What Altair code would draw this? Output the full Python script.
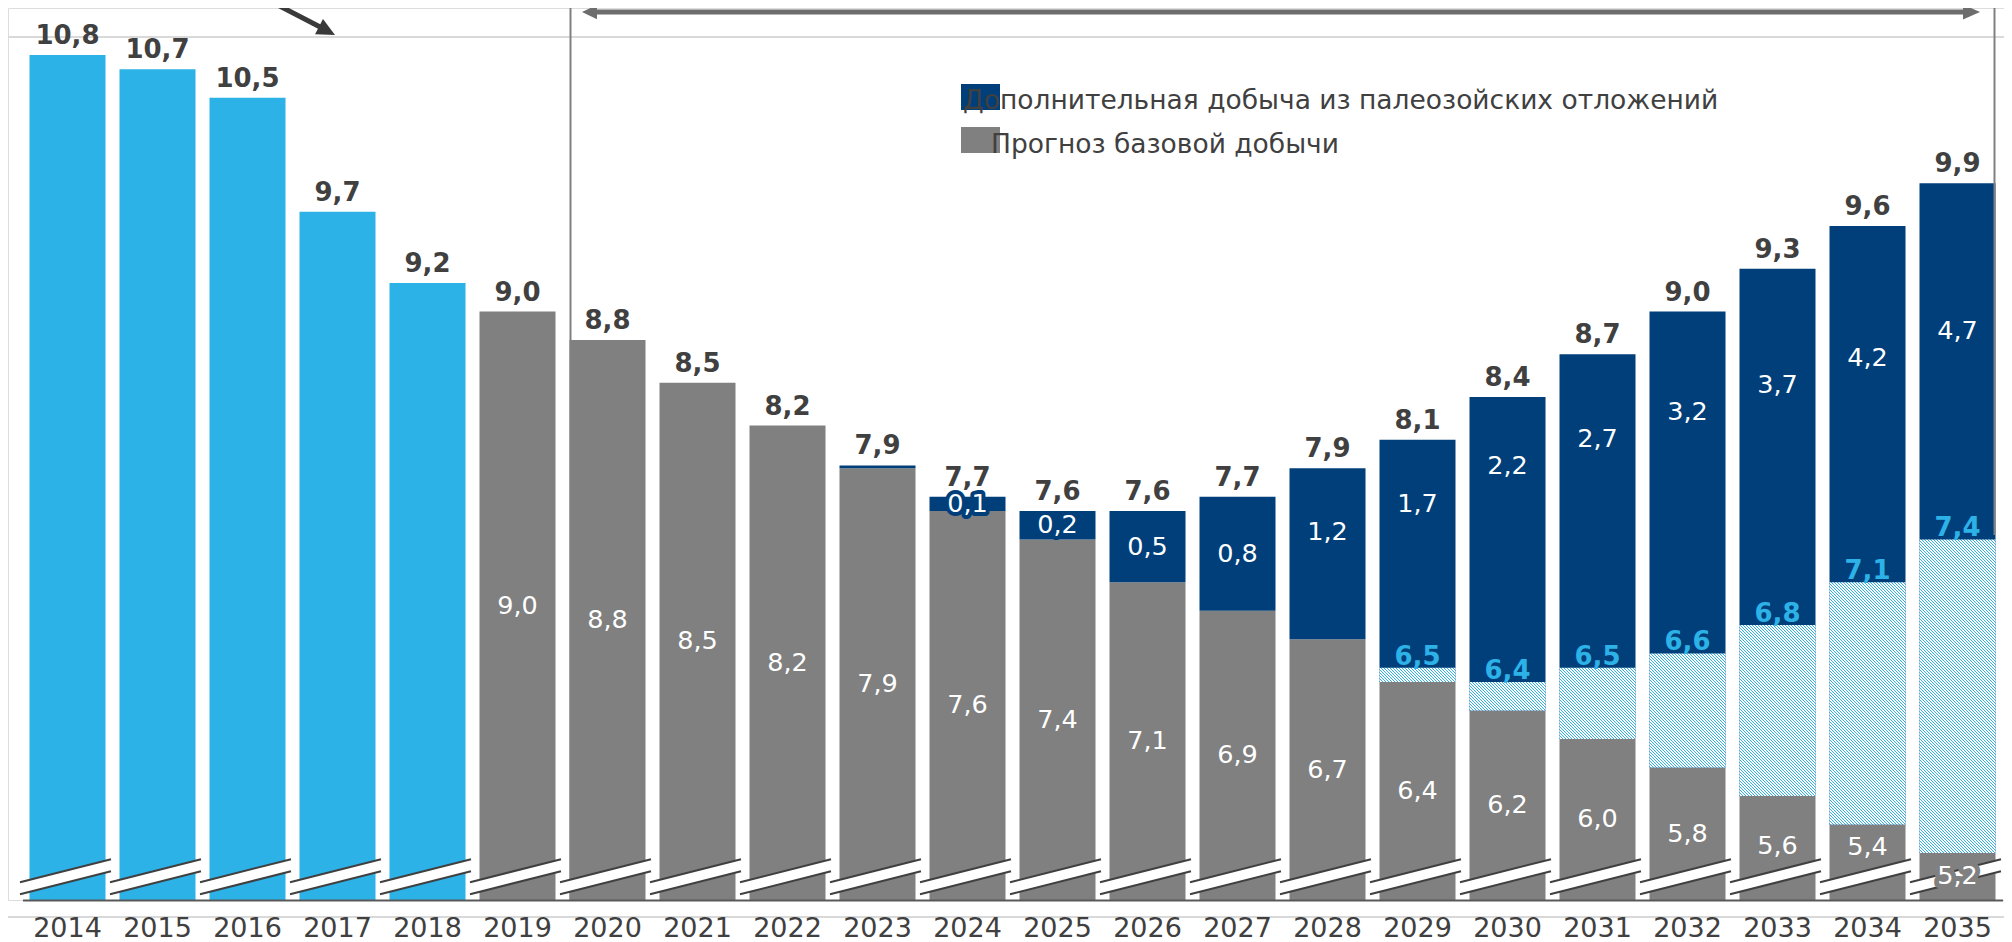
import math
import altair as alt
import pandas as pd

# ---------------- data ----------------
years = [str(y) for y in range(2014, 2036)]
hist_years = ["2014", "2015", "2016", "2017", "2018"]
hist_values = [10.8, 10.7, 10.5, 9.7, 9.2]
fc_years = [str(y) for y in range(2019, 2036)]
base_values = [9.0, 8.8, 8.5, 8.2, 7.9, 7.6, 7.4, 7.1, 6.9, 6.7, 6.4, 6.2, 6.0, 5.8, 5.6, 5.4, 5.2]
add_values = [0, 0, 0, 0, 0.02, 0.1, 0.2, 0.5, 0.8, 1.2, 1.7, 2.2, 2.7, 3.2, 3.7, 4.2, 4.7]
total_values = [9.0, 8.8, 8.5, 8.2, 7.9, 7.7, 7.6, 7.6, 7.7, 7.9, 8.1, 8.4, 8.7, 9.0, 9.3, 9.6, 9.9]
hatch_years = ["2029", "2030", "2031", "2032", "2033", "2034", "2035"]
hatch_values = [6.5, 6.4, 6.5, 6.6, 6.8, 7.1, 7.4]
add_label_years = [str(y) for y in range(2024, 2036)]
legend_labels = ["Дополнительная добыча из палеозойских отложений", "Прогноз базовой добычи"]

# ---------------- style ----------------
BLUE_L = "#2db2e8"
BLUE_D = "#003f7a"
GRAY = "#808080"
TXT = "#404040"
FONT = "DejaVu Sans"
FS_AX = 27
FS_LEG = 26.5
FS_LAB = 26
FS_IN = 25.5
Y0, Y1 = 4.87, 11.13
PLOT_W, PLOT_H = 1996, 892
STEP, GAP = 90, 14
X_START = 14.5
PERIOD = 3.0
STRIPE = 0.36


def fmt(v):
    return f"{v:.1f}".replace(".", ",")


x_enc = alt.X(
    "year:N",
    scale=alt.Scale(domain=years, range=[X_START, X_START + STEP * len(years)],
                    paddingInner=GAP / STEP, paddingOuter=GAP / 2 / STEP),
    axis=alt.Axis(title=None, labelAngle=0, ticks=False, tickSize=0,
                  domainColor="#595959", domainWidth=2, labelFont=FONT,
                  labelFontSize=FS_AX, labelColor=TXT, labelPadding=15, zindex=1),
)
y_scale = alt.Scale(domain=[Y0, Y1], nice=False, zero=False)


def yq(field):
    return alt.Y(field, scale=y_scale, axis=None)


# ---------------- bar segments ----------------
rows = []
for yr, v in zip(hist_years, hist_values):
    rows.append(dict(year=yr, lo=Y0, hi=v, kind="hist"))
for yr, b, a in zip(fc_years, base_values, add_values):
    rows.append(dict(year=yr, lo=Y0, hi=b, kind="base"))
    if a > 0:
        rows.append(dict(year=yr, lo=b, hi=b + a, kind="add"))
seg = pd.DataFrame(rows)

bars = alt.Chart(seg).mark_bar().encode(
    x=x_enc, y=yq("lo:Q"), y2="hi:Q",
    color=alt.Color("kind:N", scale=alt.Scale(domain=["hist", "base", "add"],
                                              range=[BLUE_L, GRAY, BLUE_D]), legend=None),
)

# ---------------- hatched segments (diagonal stripes via a striped gradient) ----------------
ppu = PLOT_H / (Y1 - Y0)
bw = STEP - GAP


def hatch_gradient(w, h):
    n = int(math.ceil((w + h) / PERIOD))
    L = n * PERIOD
    mu = L / (w * w + h * h)
    stops = []
    for i in range(n):
        a = i / n
        b = (i + STRIPE) / n
        c = (i + 1) / n
        stops += [
            {"offset": a, "color": BLUE_L},
            {"offset": b, "color": BLUE_L},
            {"offset": b, "color": "#ffffff"},
            {"offset": c, "color": "#ffffff"},
        ]
    return {"gradient": "linear", "x1": 0, "y1": 1, "x2": mu * w, "y2": 1 - mu * h,
            "stops": stops}


hatch_layers = []
for yr, hv in zip(hatch_years, hatch_values):
    b = base_values[fc_years.index(yr)]
    h = (hv - b) * ppu
    df = pd.DataFrame({"year": [yr], "lo": [b], "hi": [hv]})
    hatch_layers.append(
        alt.Chart(df).mark_bar(color=hatch_gradient(bw, h)).encode(
            x=x_enc, y=yq("lo:Q"), y2="hi:Q")
    )

# ---------------- axis break marks ----------------
brk = pd.DataFrame({"year": years})
BRK_FILL = "M-1.044,0.121L0.956,-0.385L0.956,-0.121L-1.044,0.385Z"
BRK_LINES = "M-1.044,0.121L0.956,-0.385M-1.044,0.385L0.956,-0.121"
BRK_Y = 868.75
brk_fill = alt.Chart(brk).mark_point(shape=BRK_FILL, size=91 * 91, filled=True,
                                     color="#ffffff", opacity=1, strokeWidth=0).encode(
    x=x_enc, y=alt.value(BRK_Y))
brk_line = alt.Chart(brk).mark_point(shape=BRK_LINES, size=91 * 91, filled=False,
                                     color=TXT, opacity=1, strokeWidth=2).encode(
    x=x_enc, y=alt.value(BRK_Y))

# ---------------- labels ----------------
top_rows = []
for yr, v in zip(hist_years, hist_values):
    top_rows.append(dict(year=yr, v=v, lab=fmt(v)))
for yr, b, a, t in zip(fc_years, base_values, add_values, total_values):
    top_rows.append(dict(year=yr, v=b + a, lab=fmt(t)))
tops = pd.DataFrame(top_rows)

base_rows = []
for yr, b in zip(fc_years, base_values):
    mid = (Y0 + b) / 2
    base_rows.append(dict(year=yr, v=max(mid, min(b - 0.16, 5.25)), lab=fmt(b)))
base_lab = pd.DataFrame(base_rows)

add_rows = []
for yr, b, a in zip(fc_years, base_values, add_values):
    if yr in add_label_years:
        top = b + a
        add_rows.append(dict(year=yr, v=top - max(0.22 * a, min(a / 2, 0.45)), lab=fmt(a)))
add_lab = pd.DataFrame(add_rows)

hatch_lab = pd.DataFrame({"year": hatch_years, "v": hatch_values,
                          "lab": [fmt(v) for v in hatch_values]})

t_tops = alt.Chart(tops).mark_text(baseline="alphabetic", dy=-11, fontWeight="bold",
                                   fontSize=FS_LAB, font=FONT, color=TXT).encode(
    x=x_enc, y=yq("v:Q"), text="lab:N")
t_base_halo = alt.Chart(base_lab).mark_text(baseline="middle", fontSize=FS_IN, font=FONT,
                                            color=GRAY, stroke=GRAY, strokeWidth=10,
                                            strokeJoin="round").encode(
    x=x_enc, y=yq("v:Q"), text="lab:N")
t_base = alt.Chart(base_lab).mark_text(baseline="middle", fontSize=FS_IN, font=FONT,
                                       color="#ffffff").encode(
    x=x_enc, y=yq("v:Q"), text="lab:N")
t_add_halo = alt.Chart(add_lab).mark_text(baseline="middle", fontSize=FS_IN, font=FONT,
                                          color=BLUE_D, stroke=BLUE_D, strokeWidth=8,
                                          strokeJoin="round").encode(
    x=x_enc, y=yq("v:Q"), text="lab:N")
t_add = alt.Chart(add_lab).mark_text(baseline="middle", fontSize=FS_IN, font=FONT,
                                     color="#ffffff").encode(
    x=x_enc, y=yq("v:Q"), text="lab:N")
t_hatch = alt.Chart(hatch_lab).mark_text(baseline="alphabetic", dy=-3, fontWeight="bold",
                                         fontSize=FS_LAB, font=FONT, color=BLUE_L).encode(
    x=x_enc, y=yq("v:Q"), text="lab:N")

# ---------------- annotations ----------------
ann = pd.DataFrame({"k": [0]})

frame = alt.Chart(ann).mark_rect(fillOpacity=0, stroke="#d9d9d9", strokeWidth=2).encode(
    x=alt.value(-5), x2=alt.value(2015), y=alt.value(29), y2=alt.value(909))

vline_left = alt.Chart(ann).mark_rule(color=GRAY, strokeWidth=2).encode(
    x=alt.value(562.5), y=alt.value(0), y2=alt.value(892))
vline_right = alt.Chart(ann).mark_rule(color=GRAY, strokeWidth=2).encode(
    x=alt.value(1986.5), y=alt.value(0), y2=alt.value(527))

ARROW_C = "#6d6d6d"
shaft = alt.Chart(ann).mark_rule(color=ARROW_C, strokeWidth=5).encode(
    x=alt.value(586), x2=alt.value(1960), y=alt.value(4))
head_l = alt.Chart(ann).mark_point(shape="M-1,0L1,-0.95L1,0.95Z", size=225, filled=True,
                                   color=ARROW_C, opacity=1).encode(
    x=alt.value(581.5), y=alt.value(4))
head_r = alt.Chart(ann).mark_point(shape="M1,0L-1,-0.88L-1,0.88Z", size=289, filled=True,
                                   color=ARROW_C, opacity=1).encode(
    x=alt.value(1963.5), y=alt.value(4))

ARROW2 = "#3a3a3a"
shaft2 = alt.Chart(ann).mark_rule(color=ARROW2, strokeWidth=5).encode(
    x=alt.value(260), x2=alt.value(316), y=alt.value(-8), y2=alt.value(21))
head2 = alt.Chart(ann).mark_point(shape="M1,0L-1,-0.95L-1,0.95Z", size=324, filled=True,
                                  color=ARROW2, opacity=1, angle=27.6).encode(
    x=alt.value(319), y=alt.value(22.8))

# legend (drawn manually, as in the original the text overlaps the swatches)
sw_add = alt.Chart(ann).mark_rect(color=BLUE_D).encode(
    x=alt.value(953), x2=alt.value(992), y=alt.value(76), y2=alt.value(102))
sw_base = alt.Chart(ann).mark_rect(color=GRAY).encode(
    x=alt.value(953), x2=alt.value(992), y=alt.value(119), y2=alt.value(145))
lg_add = alt.Chart(ann).mark_text(align="left", baseline="alphabetic", fontSize=FS_LEG,
                                  font=FONT, color=TXT).encode(
    x=alt.value(955), y=alt.value(101), text=alt.value(legend_labels[0]))
lg_base = alt.Chart(ann).mark_text(align="left", baseline="alphabetic", fontSize=FS_LEG,
                                   font=FONT, color=TXT).encode(
    x=alt.value(983), y=alt.value(145), text=alt.value(legend_labels[1]))

chart = alt.layer(
    frame, vline_left, bars, *hatch_layers, brk_fill, brk_line, vline_right,
    shaft, head_l, head_r, shaft2, head2, sw_add, sw_base, lg_add, lg_base,
    t_tops, t_base_halo, t_base, t_add_halo, t_add, t_hatch,
).properties(
    width=PLOT_W, height=PLOT_H,
    autosize=alt.AutoSizeParams(type="none"),
    padding={"left": 0, "top": 0, "right": 0, "bottom": 42},
).configure_view(strokeWidth=0).configure(font=FONT)

chart.save("out.html", embed_options={"renderer": "svg", "actions": False})
